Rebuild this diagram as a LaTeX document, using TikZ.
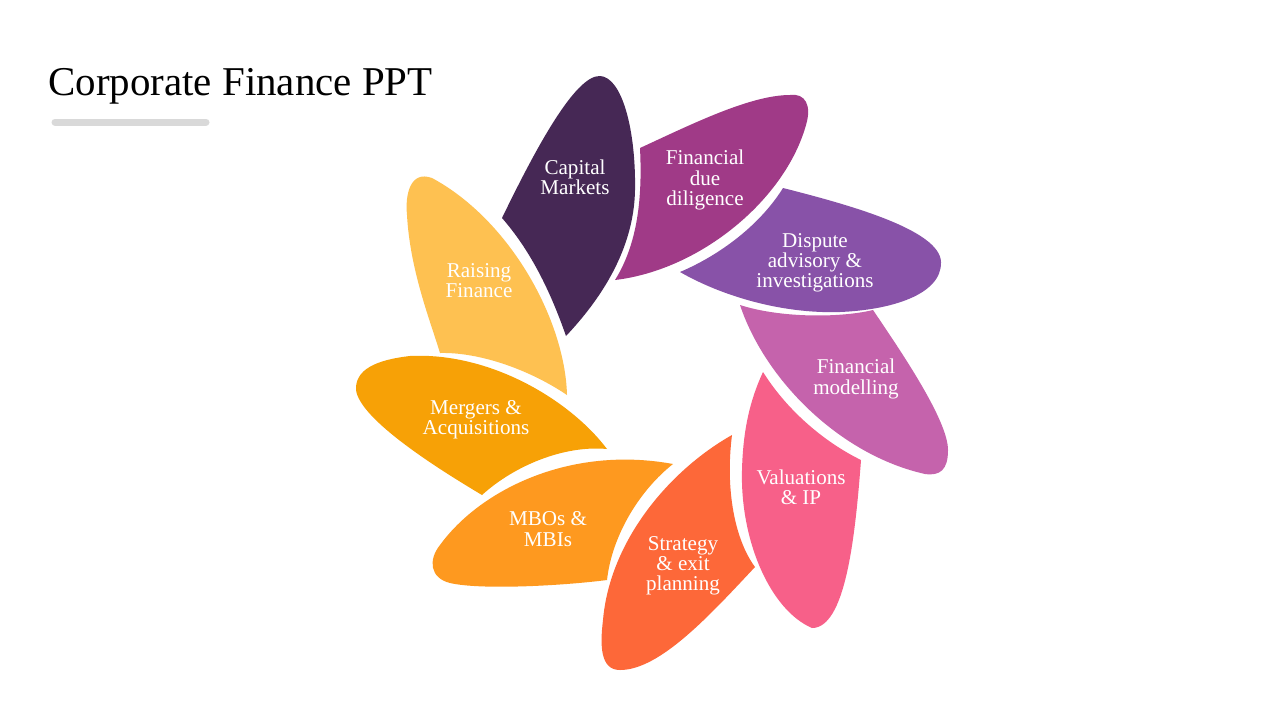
\documentclass[tikz,border=0pt]{standalone}
\usepackage{fontspec}
\setmainfont{Liberation Serif}
\usepackage{xcolor}
\usepackage{tikz}
\usetikzlibrary{positioning}

\definecolor{capitalc}{HTML}{462855}
\definecolor{duec}{HTML}{A03A87}
\definecolor{disputec}{HTML}{8852A8}
\definecolor{modelc}{HTML}{C563AC}
\definecolor{valuec}{HTML}{F76089}
\definecolor{stratc}{HTML}{FD6839}
\definecolor{mbosc}{HTML}{FE991F}
\definecolor{mergec}{HTML}{F7A106}
\definecolor{raisec}{HTML}{FEC151}
\definecolor{barc}{HTML}{D9D9D9}

\begin{document}
\begin{tikzpicture}[
    x=0.02cm, y=-0.02cm,
    font=\fontsize{12}{11.5}\selectfont,
    petal/.style={draw=none},
    lbl/.style={text=white, align=center, inner sep=0pt},
    title/.style={font=\fontsize{23.3}{28}\selectfont, anchor=base west, inner sep=0pt}
  ]
  \useasboundingbox[fill=white] (0,0) rectangle (1280,720);

  % title and bar
  \node[title] (ttl) at (48,95) {Corporate Finance PPT};
  \draw[barc, line width=7*0.02cm, line cap=round] (55,122) -- (206,122);

  % petals
  \fill[petal, capitalc] (502,218) .. controls (535,150) and (575,75) .. (600,76)
    .. controls (622,77) and (636,130) .. (635,190)
    .. controls (634,250) and (600,300) .. (566,336)
    .. controls (550,290) and (530,250) .. (502,218) -- cycle;
  \fill[petal, duec] (615,280) .. controls (640,240) and (642,190) .. (640,148)
    .. controls (690,125) and (750,95) .. (790,95)
    .. controls (805,93) and (812,105) .. (806,125)
    .. controls (785,200) and (700,270) .. (615,280) -- cycle;
  \fill[petal, disputec] (680,272) .. controls (720,255) and (760,225) .. (783,188)
    .. controls (850,205) and (940,230) .. (941,262)
    .. controls (942,295) and (890,310) .. (840,312)
    .. controls (780,314) and (720,295) .. (680,272) -- cycle;
  \fill[petal, modelc] (740,305) .. controls (780,318) and (840,318) .. (873,310)
    .. controls (900,350) and (948,420) .. (948,450)
    .. controls (948,470) and (940,476) .. (925,474)
    .. controls (840,455) and (765,380) .. (740,305) -- cycle;
  \fill[petal, valuec] (763,372) .. controls (790,415) and (830,445) .. (861,460)
    .. controls (855,540) and (845,628) .. (812,628)
    .. controls (770,610) and (740,540) .. (742,470)
    .. controls (743,430) and (750,400) .. (763,372) -- cycle;
  \fill[petal, stratc] (732,435) .. controls (725,490) and (735,540) .. (755,567)
    .. controls (710,615) and (660,670) .. (620,670)
    .. controls (600,670) and (600,645) .. (603,620)
    .. controls (610,540) and (670,470) .. (732,435) -- cycle;
  \fill[petal, mbosc] (673,464) .. controls (640,490) and (612,535) .. (607,580)
    .. controls (560,586) and (480,590) .. (450,583)
    .. controls (430,578) and (428,560) .. (440,545)
    .. controls (480,490) and (570,445) .. (673,464) -- cycle;
  \fill[petal, mergec] (607,449) .. controls (565,445) and (515,465) .. (482,495)
    .. controls (440,470) and (360,420) .. (356,390)
    .. controls (355,370) and (375,360) .. (410,356)
    .. controls (490,352) and (570,400) .. (607,449) -- cycle;
  \fill[petal, raisec] (567,395) .. controls (565,320) and (510,220) .. (432,178)
    .. controls (410,170) and (405,195) .. (407,215)
    .. controls (410,270) and (430,320) .. (440,353)
    .. controls (480,352) and (530,370) .. (567,395) -- cycle;

  % labels
  \node[lbl] (capital) at (575,177) {Capital\\Markets};
  \node[lbl] (due) at (705,180) {Financial\\due\\diligence};
  \node[lbl] (dispute) at (815,263) {Dispute\\advisory \&\\investigations};
  \node[lbl] (model) at (856,379) {Financial\\modelling};
  \node[lbl] (value) at (801,487) {Valuations\\\& IP};
  \node[lbl] (strat) at (683,566) {Strategy\\\& exit\\planning};
  \node[lbl] (mbos) at (548,529) {MBOs \&\\MBIs};
  \node[lbl] (merge) at (476,420) {Mergers \&\\Acquisitions};
  \node[lbl] (raise) at (479,281) {Raising\\Finance};
\end{tikzpicture}
\end{document}
